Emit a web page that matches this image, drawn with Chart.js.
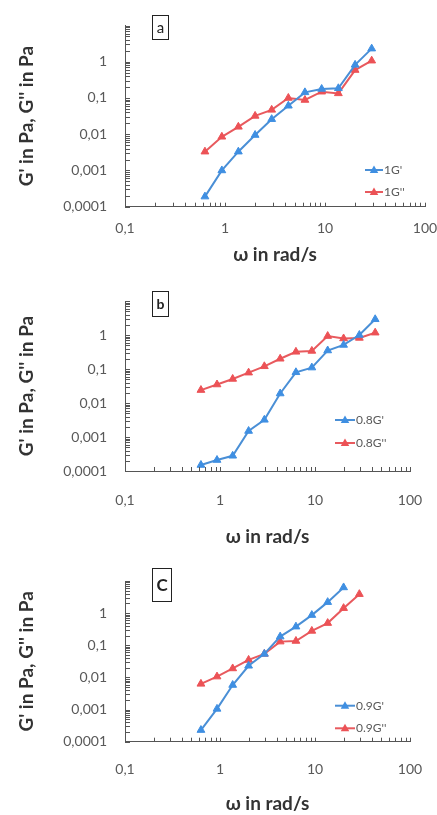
<!DOCTYPE html>
<html>
<head>
<meta charset="utf-8">
<script src="https://cdn.jsdelivr.net/npm/chart.js@4.4.1/dist/chart.umd.min.js"></script>
<style>
  html, body { margin: 0; padding: 0; background: #fff; overflow: hidden; }
  body { width: 437px; height: 815px; position: relative; }
  canvas { position: absolute; left: 0; }
</style>
</head>
<body>
<canvas id="ca" width="437" height="270" style="top:0px"></canvas>
<canvas id="cb" width="437" height="280" style="top:270px"></canvas>
<canvas id="cc" width="437" height="275" style="top:540px"></canvas>
<script>
// ---- data ----
const omega = [0.63, 0.93, 1.36, 2, 2.93, 4.3, 6.3, 9.26, 13.6, 20, 29.3, 43];

const gPrime1G  = [0.00019, 0.001, 0.0033, 0.0095, 0.026, 0.061, 0.143, 0.177, 0.185, 0.82, 2.3];
const gDouble1G = [0.0033, 0.0085, 0.016, 0.032, 0.047, 0.1, 0.088, 0.149, 0.134, 0.59, 1.07];

const gPrime08G  = [0.00015, 0.00021, 0.00028, 0.0015, 0.0032, 0.019, 0.08, 0.11, 0.35, 0.51, 1.0, 2.9];
const gDouble08G = [0.024, 0.035, 0.051, 0.078, 0.12, 0.2, 0.32, 0.34, 0.93, 0.79, 0.82, 1.17];

const gPrime09G  = [0.00023, 0.00105, 0.0058, 0.023, 0.054, 0.186, 0.38, 0.87, 2.2, 6.3];
const gDouble09G = [0.0063, 0.0106, 0.019, 0.035, 0.054, 0.13, 0.136, 0.28, 0.49, 1.43, 3.9];

const xTicks = [0.1, 1, 10, 100];
const yTicks = [0.0001, 0.001, 0.01, 0.1, 1];
const xTitle = 'ω in rad/s';
const yTitle = "G' in Pa, G'' in Pa";

const BLUE = '#4a8fd6', BLUE_PT = '#3f8fe2';
const RED = '#e85a5e', RED_PT = '#ec5256';
const TICK_COLOR = '#595959';
const TITLE_COLOR = '#333333';
const AXIS_COLOR = '#555555';

function pairs(xs, ys) { return ys.map((y, i) => ({ x: xs[i], y: y })); }
function fmt(v) { return String(v).replace('.', ','); }

const minorTicks = {
  id: 'minorTicks',
  afterDatasetsDraw(chart) {
    const { ctx } = chart;
    const xs = chart.scales.x, ys = chart.scales.y;
    ctx.save();
    ctx.strokeStyle = AXIS_COLOR;
    ctx.lineWidth = 1;
    ctx.beginPath();
    for (let e = -2; e <= 2; e++) {
      for (let k = 1; k <= 9; k++) {
        const v = k * Math.pow(10, e);
        if (v < xs.min * 0.999 || v > xs.max * 1.001) continue;
        const px = Math.round(xs.getPixelForValue(v)) + 0.5;
        ctx.moveTo(px, xs.top);
        ctx.lineTo(px, xs.top - 4);
      }
    }
    for (let e = -5; e <= 2; e++) {
      for (let k = 1; k <= 9; k++) {
        const v = k * Math.pow(10, e);
        if (v < ys.min * 0.999 || v > ys.max * 1.001) continue;
        const py = Math.round(ys.getPixelForValue(v)) + 0.5;
        ctx.moveTo(ys.right, py);
        ctx.lineTo(ys.right + 5, py);
      }
    }
    ctx.stroke();
    ctx.restore();
  }
};

function tri(ctx, x, y, r, fill) {
  ctx.beginPath();
  ctx.moveTo(x, y - r);
  ctx.lineTo(x + r * 0.95, y + r * 0.65);
  ctx.lineTo(x - r * 0.95, y + r * 0.65);
  ctx.closePath();
  ctx.fillStyle = fill;
  ctx.fill();
}

const decor = {
  id: 'decor',
  afterDraw(chart, args, o) {
    const { ctx } = chart;
    ctx.save();
    // letter box
    const b = o.box;
    ctx.strokeStyle = '#222';
    ctx.lineWidth = 1;
    ctx.fillStyle = '#fff';
    ctx.fillRect(b.x, b.y, b.w, b.h);
    ctx.strokeRect(b.x + 0.5, b.y + 0.5, b.w, b.h);
    ctx.fillStyle = '#222';
    ctx.font = b.font;
    ctx.textAlign = 'center';
    ctx.textBaseline = 'middle';
    ctx.fillText(b.letter, b.x + b.w / 2 + 0.5, b.y + b.h / 2 + 1);
    // legend
    const L = o.legend;
    chart.data.datasets.forEach((ds, i) => {
      const y = L.y[i];
      ctx.strokeStyle = ds.borderColor;
      ctx.lineWidth = 2;
      ctx.beginPath();
      ctx.moveTo(L.x1, y);
      ctx.lineTo(L.x2, y);
      ctx.stroke();
      tri(ctx, (L.x1 + L.x2) / 2, y, 4.5, ds.pointBackgroundColor);
      ctx.fillStyle = TICK_COLOR;
      ctx.font = '12px Lato';
      ctx.textAlign = 'left';
      ctx.textBaseline = 'middle';
      ctx.fillText(ds.label, L.x2 + 1, y);
    });
    ctx.restore();
  }
};

function makePanel(id, g, series) {
  const el = document.getElementById(id);
  const H = el.height;
  return new Chart(el, {
    type: 'line',
    data: {
      datasets: series.map(s => ({
        label: s.label,
        data: pairs(omega, s.values),
        borderColor: s.color,
        backgroundColor: s.pt,
        pointBackgroundColor: s.pt,
        pointBorderColor: s.pt,
        pointStyle: 'triangle',
        pointRadius: 4.5,
        pointBorderWidth: 1,
        borderWidth: 2,
        tension: 0
      }))
    },
    options: {
      responsive: false,
      animation: false,
      devicePixelRatio: 1,
      layout: { padding: { left: 0, right: 437 - g.right, top: g.top, bottom: 0 } },
      plugins: {
        legend: { display: false },
        tooltip: { enabled: false },
        decor: { box: g.box, legend: g.legend }
      },
      scales: {
        x: {
          type: 'logarithmic',
          min: 0.1, max: 100,
          afterBuildTicks: s => { s.ticks = xTicks.map(v => ({ value: v })); },
          afterFit: s => { s.height = H - g.bottom; s.paddingLeft = 0; s.paddingRight = 0; },
          grid: { display: false, drawTicks: false },
          border: { display: true, color: AXIS_COLOR, width: 1 },
          ticks: { callback: v => fmt(v), color: TICK_COLOR, font: { family: 'Lato', size: 14 }, padding: g.xPad, maxRotation: 0, autoSkip: false },
          title: { display: true, text: xTitle, color: TITLE_COLOR, font: { family: 'Lato', size: 19, weight: 'bold' }, padding: { top: 0, bottom: g.xTitlePad } }
        },
        y: {
          type: 'logarithmic',
          min: 0.0001, max: 10,
          afterBuildTicks: s => { s.ticks = yTicks.map(v => ({ value: v })); },
          afterFit: s => { s.width = g.left; s.paddingTop = 0; s.paddingBottom = 0; },
          grid: { display: false, drawTicks: false },
          border: { display: true, color: AXIS_COLOR, width: 1 },
          ticks: { callback: v => fmt(v), color: TICK_COLOR, font: { family: 'Lato', size: 14 }, padding: 18, autoSkip: false },
          title: { display: true, text: yTitle, color: TITLE_COLOR, font: { family: 'Lato', size: 19, weight: 'bold' }, padding: { top: 15.5, bottom: 0 } }
        }
      }
    },
    plugins: [minorTicks, decor]
  });
}

makePanel('ca', {
  left: 125, right: 425, top: 25.5, bottom: 206.7, xPad: 13, xTitlePad: 3.5,
  box: { x: 152, y: 15, w: 16, h: 24, letter: 'a', font: '15px Lato' },
  legend: { x1: 365, x2: 383, y: [170, 192] }
}, [
  { label: "1G'", values: gPrime1G, color: BLUE, pt: BLUE_PT },
  { label: "1G''", values: gDouble1G, color: RED, pt: RED_PT }
]);

makePanel('cb', {
  left: 125, right: 410, top: 31, bottom: 201, xPad: 21.5, xTitlePad: 1.6,
  box: { x: 152, y: 21, w: 16, h: 25, letter: 'b', font: 'bold 14px Lato' },
  legend: { x1: 335, x2: 355, y: [150, 173] }
}, [
  { label: "0.8G'", values: gPrime08G, color: BLUE, pt: BLUE_PT },
  { label: "0.8G''", values: gDouble08G, color: RED, pt: RED_PT }
]);

makePanel('cc', {
  left: 125, right: 410, top: 41, bottom: 201.7, xPad: 19.5, xTitlePad: 0,
  box: { x: 152, y: 28, w: 19, h: 33, letter: 'C', font: 'bold 17px Lato' },
  legend: { x1: 335, x2: 355, y: [165.7, 188.3] }
}, [
  { label: "0.9G'", values: gPrime09G, color: BLUE, pt: BLUE_PT },
  { label: "0.9G''", values: gDouble09G, color: RED, pt: RED_PT }
]);
</script>
</body>
</html>
